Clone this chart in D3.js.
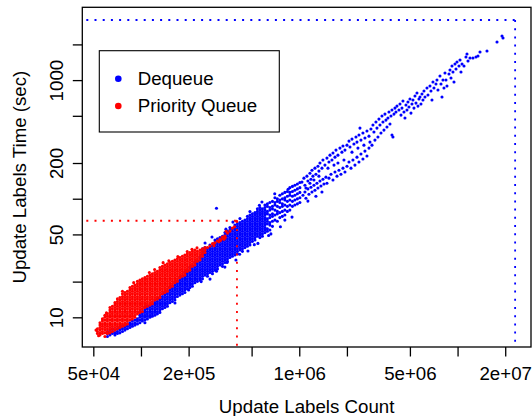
<!DOCTYPE html>
<html>
<head>
<meta charset="utf-8">
<script src="https://cdn.jsdelivr.net/npm/d3@7"></script>
<style>
  body { margin: 0; background: #fff; }
  #chart { width: 532px; height: 416px; }
  text { font-family: "Liberation Sans", Arial, Helvetica, sans-serif; }
</style>
</head>
<body>
<div id="chart"></div>
<script>
// Counts are kept in thousands, times in seconds.
// Dense part of each cloud: [count, [times read down that column]]
const dequeueColumns = [
  [61.4, [7.6, 7.3, 6.9]], [63.7, [7.8, 7.4, 7.1]], [66.0, [8.0, 7.6, 7.3]], [68.5, [7.8, 7.4, 7.1]],
  [71.0, [8.0, 7.6, 7.3]], [73.6, [8.2, 7.8, 7.4]], [76.4, [8.4, 8.0, 7.6]], [79.2, [8.6, 8.2, 7.8]],
  [82.1, [8.8, 8.4, 8.0]], [85.2, [9.0, 8.6, 8.2]], [88.3, [9.3, 8.8, 8.4]], [91.6, [9.5, 9.0, 8.6]],
  [95.0, [9.7, 9.3, 8.8]], [98.5, [11.0, 10.4, 10.0, 9.5, 9.0]], [102.1, [11.2, 10.7, 10.2, 9.7, 9.3]],
  [105.9, [12.1, 11.5, 11.0, 10.4, 10.0, 9.5, 9.0]], [109.8, [12.4, 11.8, 11.2, 10.7, 10.2, 9.7]],
  [114, [12.7, 12.1, 11.5, 11.0, 10.4, 10.0]], [118.1, [13.0, 12.4, 11.8, 11.2, 10.7, 10.2]],
  [122.5, [14.0, 13.3, 12.7, 12.1, 11.5, 11.0, 10.4]], [127.0, [14.3, 13.6, 13.0, 12.4, 11.8, 11.2, 10.7]],
  [131.7, [14.7, 14.0, 13.3, 12.7, 12.1, 11.5, 11.0]], [136.6, [15.8, 15.0, 14.3, 13.6, 13.0, 12.4, 11.8]],
  [141.6, [16.2, 15.4, 14.7, 14.0, 13.3, 12.7, 12.1]], [146.9, [16.6, 15.8, 15.0, 14.3, 13.6, 13.0, 12.4]],
  [152.3, [17.8, 17.0, 16.2, 15.4, 14.7, 14.0, 13.3]], [158.0, [18.3, 17.4, 16.6, 15.8, 15.0, 14.3, 13.6]],
  [163.8, [19.6, 18.7, 17.8, 17.0, 16.2, 15.4, 14.7, 14.0]],
  [169.9, [20.1, 19.2, 18.3, 17.4, 16.6, 15.8, 15.0]],
  [176.2, [21.6, 20.6, 19.6, 18.7, 17.8, 17.0, 16.2, 15.4]],
  [182.7, [22.2, 21.1, 20.1, 19.2, 18.3, 17.4, 16.6, 15.8]],
  [189.4, [23.9, 22.7, 21.6, 20.6, 19.6, 18.7, 17.8, 17.0, 16.2]],
  [196.4, [24.4, 23.3, 22.2, 21.1, 20.1, 19.2, 18.3, 17.4]],
  [203.7, [26.3, 25.0, 23.9, 22.7, 21.6, 20.6, 19.6, 18.7, 17.8]],
  [211.3, [26.9, 25.6, 24.4, 23.3, 22.2, 21.1, 20.1, 19.2, 18.3]],
  [219.1, [29.0, 27.6, 26.3, 25.0, 23.9, 22.7, 21.6, 20.6, 19.6]],
  [227.2, [29.7, 28.3, 26.9, 25.6, 24.4, 23.3, 22.2, 21.1, 20.1]],
  [235.9, [31.9, 30.4, 29.0, 27.6, 26.3, 25.0, 23.9, 22.7, 21.6, 20.6]],
  [244.6, [37.8, 36.0, 34.3, 32.7, 31.1, 29.7, 28.3, 26.9, 25.6, 24.4, 23.3, 22.2, 21.1]],
  [253.7, [38.7, 36.9, 35.2, 33.5, 31.9, 30.4, 29.0, 27.6, 26.3, 25.0, 23.9, 22.7]],
  [263.1, [37.8, 36.0, 34.3, 32.7, 31.1, 29.7, 28.3, 26.9, 25.6, 24.4, 23.3, 22.2]],
  [272.8, [40.7, 38.7, 36.9, 35.2, 33.5, 31.9, 30.4, 29.0, 27.6, 26.3, 25.0, 23.9]],
  [282.9, [39.7, 37.8, 36.0, 34.3, 32.7, 31.1, 29.7, 28.3, 26.9, 25.6, 24.4, 23.3]],
  [293.4, [44.8, 42.7, 40.7, 38.7, 36.9, 35.2, 33.5, 31.9, 30.4, 29.0, 27.6, 26.3, 25.0]],
  [304.2, [45.9, 43.7, 41.7, 39.7, 37.8, 36.0, 34.3, 32.7, 31.1, 29.7, 28.3, 26.9, 25.6]],
  [315.5, [47.0, 44.8, 42.7, 40.7, 38.7, 36.9, 35.2, 33.5, 31.9, 30.4, 29.0, 27.6]],
  [327.2, [48.2, 45.9, 43.7, 41.7, 39.7, 37.8, 36.0, 34.3, 32.7, 31.1, 29.7, 28.3, 26.9]],
  [339.3, [51.8, 49.4, 47.0, 44.8, 42.7, 40.7, 38.7, 36.9, 35.2, 33.5, 31.9, 30.4, 29.0]],
  [351.8, [53.1, 50.6, 48.2, 45.9, 43.7, 41.7, 39.7, 37.8, 36.0, 34.3, 32.7, 31.1, 29.7]],
  [364.8, [57.1, 54.4, 51.8, 49.4, 47.0, 44.8, 42.7, 40.7, 38.7, 36.9, 35.2, 33.5, 31.9]],
  [378.3, [55.7, 53.1, 50.6, 48.2, 45.9, 43.7, 41.7, 39.7, 37.8, 36.0, 34.3, 32.7]],
  [392.3, [59.9, 57.1, 54.4, 51.8, 49.4, 47.0, 44.8, 42.7, 40.7, 38.7, 36.9, 35.2, 33.5]],
  [406.8, [61.4, 58.5, 55.7, 53.1, 50.6, 48.2, 45.9, 43.7, 41.7, 39.7, 37.8, 36.0, 34.3]],
  [421.9, [62.9, 59.9, 57.1, 54.4, 51.8, 49.4, 47.0, 44.8, 42.7, 40.7, 38.7, 36.9]],
  [437.5, [64.5, 61.4, 58.5, 55.7, 53.1, 50.6, 48.2, 45.9, 43.7, 41.7, 39.7, 37.8, 36.0]],
  [453.7, [66.0, 62.9, 59.9, 57.1, 54.4, 51.8, 49.4, 47.0, 44.8, 42.7, 40.7, 38.7]],
  [470.5, [71.0, 67.7, 64.5, 61.4, 58.5, 55.7, 53.1, 50.6, 48.2, 45.9, 43.7, 41.7, 39.7]],
  [488, [72.8, 69.3, 66.0, 62.9, 59.9, 57.1, 54.4, 51.8, 49.4, 47.0, 44.8, 42.7, 40.7]],
  [506, [74.5, 71.0, 67.7, 64.5, 61.4, 58.5, 55.7, 53.1, 50.6, 48.2, 45.9, 43.7]],
  [525, [76.4, 72.8, 69.3, 66.0, 62.9, 59.9, 57.1, 54.4, 51.8, 49.4, 47.0, 44.8]],
  [544, [82.1, 78.2, 74.5, 71.0, 67.7, 64.5, 61.4, 58.5, 55.7, 53.1, 50.6, 48.2]],
  [564, [84.2, 80.2, 76.4, 72.8, 69.3, 66.0, 62.9, 59.9, 57.1, 54.4, 51.8, 49.4, 47.0]],
  [585, [82.1, 78.2, 74.5, 71.0, 67.7, 64.5, 61.4, 58.5, 55.7, 53.1, 50.6, 48.2]],
  [607, [88.4, 84.2, 80.2, 76.4, 72.8, 69.3, 66.0, 62.9, 59.9, 57.1, 54.4, 51.8]],
  [629, [90.5, 86.2, 78.2, 74.5, 67.7, 64.5, 61.4, 55.7, 53.1]],
  [652, [92.8, 84.2, 80.2, 72.8, 69.3, 62.9, 59.9, 54.4]],
  [677, [95.0, 86.2, 82.1, 74.5, 71.0, 64.5, 58.5]],
  [702, [102, 92.8, 88.4, 80.2, 72.8, 66.0]],
  [727, [99.7, 95.0, 86.2, 78.2, 74.5, 64.5]],
  [754, [107, 97.4, 92.8, 84.2, 76.4, 69.3]],
  [782, [110, 99.7, 90.5, 86.2, 78.2, 71.0]],
  [811, [113, 102, 97.4, 88.4, 80.2, 72.8]],
  [841, [115, 105, 95.0, 86.2, 78.2]],
  [872, [124, 113, 107, 97.4, 88.4, 80.2]],
  [905, [127, 115, 105, 95.0, 86.2]],
  [938, [130, 118, 107, 97.4, 88.4]],
  [973, [133, 121, 110, 99.7, 90.5]],
  [1009, [137, 124, 113, 102, 92.8]]
];

// Scattered Dequeue runs: [count, time]
const dequeueExtra = [
  [300, 83], [164, 13.2], [200, 17.0], [240, 20.0], [300, 24.5], [350, 29.0], [420, 34.0],
  [520, 41.0], [640, 49.0], [760, 58.0], [900, 70.0], [560, 88], [700, 110], [850, 120],
  [254, 42.3], [281, 47.5], [344, 55.4], [381, 63.5], [422, 68.0], [488, 77.9], [581, 93.7],
  [273, 21.0], [339, 26.5], [398, 30.4], [474, 36.2], [548, 42.0], [662, 50.5], [811, 66.0],
  [1040, 138], [1070, 149], [1086, 130], [1118, 155], [1134, 141], [1168, 164], [1185, 146],
  [1203, 174], [1220, 155], [1256, 181], [1274, 161], [1312, 188], [1331, 171], [1351, 200],
  [1391, 181], [1411, 212], [1453, 192],
  [1055, 107], [1086, 114], [1102, 101], [1134, 121], [1151, 109], [1185, 125], [1203, 114],
  [1238, 130], [1256, 118], [1293, 135], [1312, 123], [1351, 141], [1371, 128], [1411, 146],
  [1432, 133], [1474, 152], [1496, 135],
  [1102, 123], [1168, 135], [1238, 144], [1331, 155], [1134, 95.5], [1274, 105], [1391, 114],
  [1496, 220], [1540, 204], [1563, 233], [1609, 212], [1633, 243], [1681, 224], [1706, 257],
  [1755, 233], [1807, 267], [1860, 247], [1888, 278], [1944, 257],
  [1540, 149], [1586, 161], [1633, 144], [1681, 168], [1731, 155], [1781, 174], [1834, 161],
  [1888, 181], [1944, 168], [1518, 181], [1657, 192], [1755, 200], [1916, 212],
  [2002, 283], [2061, 306], [2091, 273], [2153, 318], [2215, 289], [2281, 331], [2315, 300],
  [2383, 344], [2453, 312], [2525, 358], [2600, 325], [2677, 372], [2756, 337],
  [2002, 188], [2061, 204], [2122, 181], [2183, 212], [2248, 192], [2315, 224], [2383, 204],
  [2453, 238], [2525, 216], [2600, 252], [2677, 229], [2756, 267],
  [2153, 247], [2348, 267], [2562, 283], [2418, 394], [2796, 300],
  [2837, 387], [2921, 418], [2963, 365], [3051, 443], [3096, 394], [3187, 469], [3234, 418],
  [3330, 498], [3378, 443], [3478, 517], [3529, 460], [3633, 479], [3687, 538], [3796, 498],
  [3852, 559], [3965, 517], [4023, 581],
  [2879, 283], [3007, 312], [3141, 331], [3282, 358], [3428, 379], [3581, 402], [3741, 426],
  [3852, 344], [3907, 331],
  [4082, 538], [4142, 604], [4264, 559], [4327, 628], [4391, 507], [4455, 581], [4519, 666],
  [4586, 538], [4653, 479], [4721, 616], [4791, 559], [4860, 653], [4932, 593], [5004, 692],
  [5078, 527], [5152, 628], [5227, 679], [5304, 581], [5382, 734], [5461, 640], [5541, 778],
  [5622, 604], [5704, 692], [5788, 720], [5873, 628], [5959, 763], [6046, 679], [6135, 809],
  [6225, 720],
  [6409, 857], [6502, 748], [6694, 891], [6792, 809], [6892, 679], [6992, 963], [7095, 857],
  [7305, 926], [7412, 1001], [7520, 825], [7743, 1082], [7857, 926], [7972, 720], [8088, 1001],
  [8206, 857], [8327, 1147], [8449, 1001], [8573, 891], [8825, 1125], [8955, 1216], [9087, 1041],
  [9220, 1314], [9354, 1170], [9492, 963], [9631, 1366],
  [9773, 1240], [9916, 1421], [10210, 1314], [10360, 1477], [10510, 1170], [10670, 1366],
  [10980, 1314], [11300, 1565], [11470, 1659], [11640, 1449], [11980, 1535], [12510, 1535],
  [13070, 1565], [13460, 1596], [13860, 1725], [15340, 1759], [17750, 2095], [19090, 2354],
  [19370, 2264]
];

const pqColumns = [
  [53.1, [8.0, 7.6, 7.3]], [55.1, [9.0, 8.6, 8.2, 7.8, 7.4, 7.1]],
  [57.1, [9.7, 9.3, 8.8, 8.4, 8.0, 7.6, 7.3]],
  [59.2, [10.4, 10.0, 9.5, 9.0, 8.6, 8.2, 7.8, 7.4]],
  [61.4, [10.7, 10.2, 9.7, 9.3, 8.8, 8.4, 8.0, 7.6, 7.3]],
  [63.7, [12.1, 11.5, 11.0, 10.4, 10.0, 9.5, 9.0, 8.6, 8.2, 7.8, 7.4]],
  [66.0, [12.4, 11.8, 11.2, 10.7, 10.2, 9.7, 9.3, 8.8, 8.4, 8.0, 7.6]],
  [68.5, [13.3, 12.7, 12.1, 11.5, 11.0, 10.4, 10.0, 9.5, 9.0, 8.6, 8.2, 7.8]],
  [71.0, [14.3, 13.6, 13.0, 12.4, 11.8, 11.2, 10.7, 10.2, 9.7, 9.3, 8.8, 8.4, 8.0]],
  [73.6, [14.7, 14.0, 13.3, 12.7, 12.1, 11.5, 11.0, 10.4, 10.0, 9.5, 9.0, 8.6, 8.2]],
  [76.4, [15.8, 15.0, 14.3, 13.6, 13.0, 12.4, 11.8, 11.2, 10.7, 10.2, 9.7, 9.3, 8.8, 8.4]],
  [79.2, [16.2, 15.4, 14.7, 14.0, 13.3, 12.7, 12.1, 11.5, 11.0, 10.4, 10.0, 9.5, 9.0, 8.6]],
  [82.1, [16.6, 15.8, 15.0, 14.3, 13.6, 13.0, 12.4, 11.8, 11.2, 10.7, 10.2, 9.7, 9.3, 8.8]],
  [85.2, [17.8, 17.0, 16.2, 15.4, 14.7, 14.0, 13.3, 12.7, 12.1, 11.5, 11.0, 10.4, 10.0, 9.5]],
  [88.3, [18.3, 17.4, 16.6, 15.8, 15.0, 14.3, 13.6, 13.0, 12.4, 11.8, 11.2, 10.7, 10.2, 9.7]],
  [91.6, [18.7, 17.8, 17.0, 16.2, 15.4, 14.7, 14.0, 13.3, 12.7, 12.1, 11.5, 11.0, 10.4, 10.0]],
  [95.0, [20.1, 19.2, 18.3, 17.4, 16.6, 15.8, 15.0, 14.3, 13.6, 13.0, 12.4, 11.8, 11.2, 10.7]],
  [98.5, [20.6, 19.6, 18.7, 17.8, 17.0, 16.2, 15.4, 14.7, 14.0, 13.3, 12.7, 12.1, 11.5, 11.0]],
  [102.1, [21.1, 20.1, 19.2, 18.3, 17.4, 16.6, 15.8, 15.0, 14.3, 13.6, 13.0, 12.4, 11.8, 11.2]],
  [105.9, [21.6, 20.6, 19.6, 18.7, 17.8, 17.0, 16.2, 15.4, 14.7, 14.0, 13.3, 12.7, 12.1]],
  [109.8, [22.2, 21.1, 20.1, 19.2, 18.3, 17.4, 16.6, 15.8, 15.0, 14.3, 13.6, 13.0, 12.4]],
  [114, [22.7, 21.6, 20.6, 19.6, 18.7, 17.8, 17.0, 16.2, 15.4, 14.7, 14.0, 13.3, 12.7]],
  [118.1, [23.3, 22.2, 21.1, 20.1, 19.2, 18.3, 17.4, 16.6, 15.8, 15.0, 14.3, 13.6, 13.0]],
  [122.5, [23.9, 22.7, 21.6, 20.6, 19.6, 18.7, 17.8, 17.0, 16.2, 15.4, 14.7, 14.0]],
  [127.0, [24.4, 23.3, 22.2, 21.1, 20.1, 19.2, 18.3, 17.4, 16.6, 15.8, 15.0, 14.3]],
  [131.7, [26.3, 25.0, 23.9, 22.7, 21.6, 20.6, 19.6, 18.7, 17.8, 17.0, 16.2, 15.4, 14.7]],
  [136.6, [26.9, 25.6, 24.4, 23.3, 22.2, 21.1, 20.1, 19.2, 18.3, 17.4, 16.6, 15.8]],
  [141.6, [27.6, 26.3, 25.0, 23.9, 22.7, 21.6, 20.6, 19.6, 18.7, 17.8, 17.0, 16.2]],
  [146.9, [28.3, 26.9, 25.6, 24.4, 23.3, 22.2, 21.1, 20.1, 19.2, 18.3, 17.4, 16.6]],
  [152.3, [29.0, 27.6, 26.3, 25.0, 23.9, 22.7, 21.6, 20.6, 19.6, 18.7, 17.8]],
  [158.0, [29.7, 28.3, 26.9, 25.6, 24.4, 23.3, 22.2, 21.1, 20.1, 19.2, 18.3]],
  [163.8, [30.4, 29.0, 27.6, 26.3, 25.0, 23.9, 22.7, 21.6, 20.6, 19.6]],
  [169.9, [31.1, 29.7, 28.3, 26.9, 25.6, 24.4, 23.3, 22.2, 21.1, 20.1]],
  [176.2, [31.9, 30.4, 29.0, 27.6, 26.3, 25.0, 23.9, 22.7, 21.6]],
  [182.7, [32.7, 31.1, 29.7, 28.3, 26.9, 25.6, 24.4, 23.3, 22.2]],
  [189.4, [33.5, 31.9, 30.4, 29.0, 27.6, 26.3, 25.0, 23.9, 22.7]],
  [196.4, [34.3, 32.7, 31.1, 29.7, 28.3, 26.9, 25.6, 24.4]],
  [203.7, [35.2, 33.5, 31.9, 30.4, 29.0, 27.6, 26.3, 25.0]],
  [211.3, [36.0, 34.3, 32.7, 31.1, 29.7, 28.3, 26.9]],
  [219.1, [36.9, 35.2, 33.5, 31.9, 30.4, 29.0, 27.6]],
  [227.2, [36.0, 34.3, 32.7, 31.1, 29.7]],
  [235.9, [36.9, 35.2, 33.5, 31.9, 30.4]],
  [244.6, [37.8, 36.0, 34.3, 32.7]],
  [253.7, [38.7, 36.9, 35.2]]
];

const pqExtra = [
  [52.0, 7.8], [54.0, 7.0], [59.2, 6.9], [60.5, 10.9], [76.4, 16.6], [113, 23.9], [122, 25.3],
  [150, 30.0], [171, 32.5], [196, 35.9], [210, 37.4], [226, 38.5], [90, 19.6], [138, 28.9],
  [263, 38.7], [273, 39.9], [283, 41.8], [289, 40.2], [293, 42.4], [304, 44.0], [311, 43.4],
  [316, 45.6], [318, 44.5], [327, 47.5], [330, 46.0], [335, 45.6], [339, 48.4], [341, 47.0],
  [345, 53.1], [352, 51.3], [365, 53.3], [378, 56.5], [390, 58.0], [402, 64.5]
];

const seriesNames = ["Dequeue", "Priority Queue"];
const seriesColors = ["#0000ff", "#ff0000"];
// dotted guide lines: largest count / time for each series
const maxCountK = [23100, 404];
const maxTime = [3211, 65.2];

const xTicks = [5e4, 1e5, 2e5, 5e5, 1e6, 2e6, 5e6, 1e7, 2e7];
const xTickLabels = ["5e+04", "", "2e+05", "", "1e+06", "", "5e+06", "", "2e+07"];
const yTicks = [10, 20, 50, 100, 200, 500, 1000, 2000];
const yTickLabels = ["10", "", "50", "", "200", "", "1000", ""];
const xLimits = [4.26e4, 2.91e7];
const yLimits = [5.62, 4110];

const width = 532, height = 416;
const margin = { top: 7.3, right: 1, bottom: 69, left: 82.3 };
const fontSize = 18.7;

const svg = d3.select("#chart")
  .append("svg")
  .attr("width", width)
  .attr("height", height);

const x = d3.scaleLog().domain(xLimits).range([margin.left, width - margin.right]);
const y = d3.scaleLog().domain(yLimits).range([height - margin.bottom, margin.top]);

// Turn the column lists into plain [count, time] points
function expand(columns, extra) {
  const pts = [];
  columns.forEach(([c, times]) => times.forEach(t => pts.push([c, t])));
  return pts.concat(extra);
}
const series = [expand(dequeueColumns, dequeueExtra), expand(pqColumns, pqExtra)];

series.forEach((pts, i) => {
  svg.append("g")
    .selectAll("circle")
    .data(pts)
    .enter()
    .append("circle")
    .attr("cx", d => x(d[0] * 1e3))
    .attr("cy", d => y(d[1]))
    .attr("r", 1.55)
    .attr("fill", seriesColors[i]);
});

// Dotted lines at each series' max
maxCountK.forEach((c, i) => {
  const mx = x(c * 1e3), my = y(maxTime[i]);
  const g = svg.append("g")
    .attr("stroke", seriesColors[i])
    .attr("stroke-width", 1.8)
    .attr("stroke-dasharray", "2,6.2");
  g.append("line")
    .attr("x1", x.range()[0] + 4).attr("x2", mx)
    .attr("y1", my).attr("y2", my);
  g.append("line")
    .attr("x1", mx).attr("x2", mx)
    .attr("y1", my).attr("y2", y.range()[0]);
});

// Axes
const xAxis = d3.axisBottom(x)
  .tickValues(xTicks)
  .tickFormat((d, i) => xTickLabels[i])
  .tickSize(9.5);
const gx = svg.append("g")
  .attr("transform", `translate(0,${height - margin.bottom})`)
  .call(xAxis)
  .attr("font-size", null)
  .attr("font-family", null);
gx.select(".domain").remove();
gx.selectAll(".tick line").attr("stroke", "#000").attr("stroke-width", 1.3);
gx.selectAll(".tick text")
  .attr("y", 33)
  .attr("dy", null)
  .attr("fill", "#000")
  .style("font-size", fontSize + "px");

const yAxis = d3.axisLeft(y)
  .tickValues(yTicks)
  .tickFormat((d, i) => yTickLabels[i])
  .tickSize(9.5);
const gy = svg.append("g")
  .attr("transform", `translate(${margin.left},0)`)
  .call(yAxis)
  .attr("font-size", null)
  .attr("font-family", null);
gy.select(".domain").remove();
gy.selectAll(".tick line").attr("stroke", "#000").attr("stroke-width", 1.3);
gy.selectAll(".tick text")
  .attr("x", 0)
  .attr("y", -19)
  .attr("dy", null)
  .attr("transform", "rotate(-90)")
  .attr("text-anchor", "middle")
  .attr("fill", "#000")
  .style("font-size", fontSize + "px");

// Plot frame
svg.append("rect")
  .attr("x", margin.left)
  .attr("y", margin.top)
  .attr("width", width - margin.right - margin.left)
  .attr("height", height - margin.bottom - margin.top)
  .attr("fill", "none")
  .attr("stroke", "#000")
  .attr("stroke-width", 1.3);

// Axis titles
svg.append("text")
  .attr("x", (margin.left + width - margin.right) / 2)
  .attr("y", 413)
  .attr("text-anchor", "middle")
  .style("font-size", fontSize + "px")
  .text("Update Labels Count");

svg.append("text")
  .attr("transform", `translate(26,${(margin.top + height - margin.bottom) / 2}) rotate(-90)`)
  .attr("text-anchor", "middle")
  .style("font-size", fontSize + "px")
  .text("Update Labels Time (sec)");

// Legend
const legend = svg.append("g").attr("transform", "translate(99.3,50.7)");
legend.append("rect")
  .attr("width", 180)
  .attr("height", 81.3)
  .attr("fill", "#fff")
  .attr("stroke", "#000")
  .attr("stroke-width", 1.1);
seriesNames.forEach((name, i) => {
  legend.append("circle")
    .attr("cx", 19)
    .attr("cy", 28 + i * 27.3)
    .attr("r", 3.3)
    .attr("fill", seriesColors[i]);
  legend.append("text")
    .attr("x", 38.4)
    .attr("y", 34.5 + i * 27.3)
    .style("font-size", fontSize + "px")
    .text(name);
});
</script>
</body>
</html>
